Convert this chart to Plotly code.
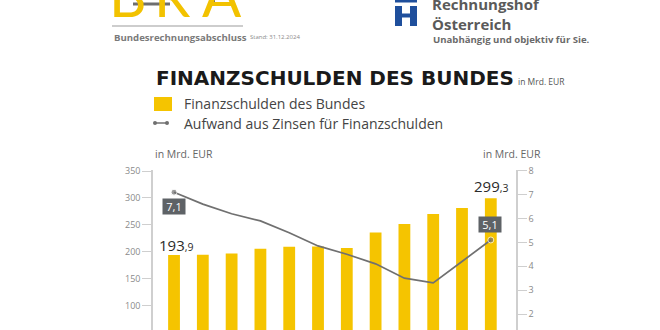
import plotly.graph_objects as go

# Data (Mrd. EUR)
years = ["2013", "2014", "2015", "2016", "2017", "2018", "2019", "2020", "2021", "2022", "2023", "2024"]
finanzschulden = [193.9, 194.5, 197.0, 205.5, 209.3, 210.0, 206.9, 236.0, 251.5, 270.0, 281.5, 299.3]
zinsaufwand = [7.1, 6.6, 6.2, 5.9, 5.4, 4.85, 4.5, 4.1, 3.5, 3.3, 4.2, 5.1]
left_ticks = [50, 100, 150, 200, 250, 300, 350]
right_ticks = [1, 2, 3, 4, 5, 6, 7, 8]

YELLOW = "#F5C400"
GREY_LINE = "#707070"
AXIS_GREY = "#cfcfcf"
FONT = "Open Sans"

W, H = 660, 330
L, R, T, B = 153, 144, 170, 0
PW, PH = W - L - R, H - T - B


def px(x):
    return (x - L) / PW


def py(y):
    return (H - B - y) / PH


def fmt(v):
    s = f"{v:.1f}".replace(".", ",")
    whole, dec = s.split(",")
    return whole, dec


fig = go.Figure()

fig.add_trace(go.Bar(
    x=years, y=finanzschulden, marker_color=YELLOW, marker_line_width=0,
    name="Finanzschulden des Bundes", hoverinfo="skip",
))

last = len(zinsaufwand) - 1
marker_sizes = [6 if i in (0, last) else 0 for i in range(len(zinsaufwand))]
fig.add_trace(go.Scatter(
    x=years, y=zinsaufwand, yaxis="y2", mode="lines+markers",
    line=dict(color=GREY_LINE, width=1.7),
    marker=dict(size=marker_sizes, color=GREY_LINE),
    name="Aufwand aus Zinsen für Finanzschulden", hoverinfo="skip",
))

annotations = []

# Value labels on first and last bar (category axis -> index positions)
for i, yshift, xshift in ((0, -2, 2), (last, 0, 0)):
    whole, dec = fmt(finanzschulden[i])
    annotations.append(dict(
        x=i, y=finanzschulden[i], xref="x", yref="y",
        text=f"{whole}<span style='font-size:10.5px'>,{dec}</span>",
        showarrow=False, yanchor="bottom", yshift=yshift, xshift=xshift,
        font=dict(family=FONT, size=15, color="#2b2b2b"),
    ))

# Boxed labels on first and last interest point
for i, anchor, yshift, xshift in ((0, "top", -6, 0), (last, "bottom", 7, -1)):
    whole, dec = fmt(zinsaufwand[i])
    annotations.append(dict(
        x=i, y=zinsaufwand[i], xref="x", yref="y2",
        text=f"{whole},{dec}", showarrow=False, yanchor=anchor, yshift=yshift,
        xshift=xshift, bgcolor="#5e6266", borderpad=0, width=22,
        font=dict(family=FONT, size=11, color="white"),
    ))

# Title
annotations.append(dict(
    x=px(154), y=py(78), xref="paper", yref="paper", xanchor="left", yanchor="middle",
    text="<b>FINANZSCHULDEN DES BUNDES</b>", showarrow=False,
    font=dict(family="DejaVu Sans", size=20, color="#1a1a1a"),
))
annotations.append(dict(
    x=px(516), y=py(81), xref="paper", yref="paper", xanchor="left", yanchor="middle",
    text="in Mrd. EUR", showarrow=False,
    font=dict(family=FONT, size=8.5, color="#555555"),
))

# Legend entries
annotations.append(dict(
    x=px(182), y=py(104), xref="paper", yref="paper", xanchor="left", yanchor="middle",
    text="Finanzschulden des Bundes", showarrow=False,
    font=dict(family=FONT, size=14, color="#444444"),
))
annotations.append(dict(
    x=px(182), y=py(124), xref="paper", yref="paper", xanchor="left", yanchor="middle",
    text="Aufwand aus Zinsen für Finanzschulden", showarrow=False,
    font=dict(family=FONT, size=14, color="#444444"),
))

# Axis unit captions
for xc in (184, 512):
    annotations.append(dict(
        x=px(xc), y=py(154), xref="paper", yref="paper", xanchor="center", yanchor="middle",
        text="in Mrd. EUR", showarrow=False,
        font=dict(family=FONT, size=10.5, color="#666666"),
    ))

# Header: BRA block
for letter, xc in (("B", 128), ("R", 172), ("A", 222)):
    annotations.append(dict(
        x=px(xc), y=py(31), xref="paper", yref="paper", xanchor="center", yanchor="bottom",
        text=letter, showarrow=False,
        font=dict(family="Lato", size=58, color="#F2C200"),
    ))
annotations.append(dict(
    x=px(112), y=py(37), xref="paper", yref="paper", xanchor="left", yanchor="middle",
    text="<b>Bundesrechnungsabschluss</b>", showarrow=False,
    font=dict(family=FONT, size=9.6, color="#7a7a7a"),
))
annotations.append(dict(
    x=px(248), y=py(37), xref="paper", yref="paper", xanchor="left", yanchor="middle",
    text="Stand: 31.12.2024", showarrow=False,
    font=dict(family=FONT, size=6, color="#8a8a8a"),
))

# Header: Rechnungshof block
annotations.append(dict(
    x=px(430), y=py(14), xref="paper", yref="paper", xanchor="left", yanchor="middle",
    text="<b>Rechnungshof<br>Österreich</b>", showarrow=False, align="left",
    font=dict(family=FONT, size=15, color="#5a5a5a"),
))
annotations.append(dict(
    x=px(431), y=py(39), xref="paper", yref="paper", xanchor="left", yanchor="middle",
    text="<b>Unabhängig und objektiv für Sie.</b>", showarrow=False,
    font=dict(family=FONT, size=9.6, color="#6a6a6a"),
))

shapes = []
BLUE = "#1f4f9c"
for x0, y0, x1, y1 in ((395, 0, 417, 2.5), (395, 6, 402, 26), (410, 6, 417, 26), (402, 13.5, 410, 17.5)):
    shapes.append(dict(type="rect", xref="paper", yref="paper",
                       x0=px(x0), x1=px(x1), y0=py(y1), y1=py(y0),
                       fillcolor=BLUE, line_width=0, layer="above"))
# grey rule under the BRA letters
shapes.append(dict(type="line", xref="paper", yref="paper",
                   x0=px(112), x1=px(243), y0=py(26), y1=py(26),
                   line=dict(color="#bdbdbd", width=1.5)))
# grey strokes in the BRA mark
shapes.append(dict(type="line", xref="paper", yref="paper",
                   x0=px(133), x1=px(170), y0=py(4), y1=py(4),
                   line=dict(color="#6e6e6e", width=3)))
shapes.append(dict(type="line", xref="paper", yref="paper",
                   x0=px(213), x1=px(213), y0=py(0), y1=py(6),
                   line=dict(color="#6e6e6e", width=4)))

# Legend swatches
shapes.append(dict(type="rect", xref="paper", yref="paper",
                   x0=px(154), x1=px(172), y0=py(111), y1=py(97),
                   fillcolor=YELLOW, line_width=0))
shapes.append(dict(type="line", xref="paper", yref="paper",
                   x0=px(155), x1=px(167), y0=py(123), y1=py(123),
                   line=dict(color=GREY_LINE, width=1.5)))
for cx in (155, 167):
    shapes.append(dict(type="circle", xref="paper", yref="paper",
                       x0=px(cx - 2), x1=px(cx + 2), y0=py(125), y1=py(121),
                       fillcolor=GREY_LINE, line_width=0))

axis_common = dict(
    showline=True, linecolor=AXIS_GREY, linewidth=1.5,
    ticks="outside", ticklen=9, tickcolor=AXIS_GREY, tickwidth=1,
    showgrid=False, zeroline=False,
    tickfont=dict(family=FONT, size=9, color="#8a8a8a"),
)

fig.update_layout(
    width=W, height=H,
    margin=dict(l=L, r=R, t=T, b=B, pad=0),
    paper_bgcolor="white", plot_bgcolor="white",
    showlegend=False, bargap=0.59,
    xaxis=dict(type="category", range=[-0.73, 11.875], showticklabels=False,
               showline=False, ticks="", showgrid=False, zeroline=False),
    yaxis=dict(range=[54.9, 351.9], tickvals=left_ticks, **axis_common),
    yaxis2=dict(range=[1.33, 8.03], tickvals=right_ticks, overlaying="y", side="right",
                anchor="x", **axis_common),
    annotations=annotations, shapes=shapes,
)

fig.write_html("out.html")
